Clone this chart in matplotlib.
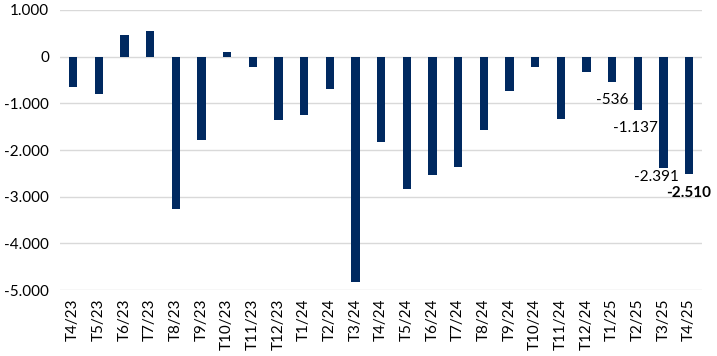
import numpy as np
import matplotlib.pyplot as plt
from matplotlib.ticker import FuncFormatter

# Datos
months = ["T4/23", "T5/23", "T6/23", "T7/23", "T8/23", "T9/23", "T10/23", "T11/23",
          "T12/23", "T1/24", "T2/24", "T3/24", "T4/24", "T5/24", "T6/24", "T7/24",
          "T8/24", "T9/24", "T10/24", "T11/24", "T12/24", "T1/25", "T2/25", "T3/25", "T4/25"]
values = [-640, -810, 470, 540, -3260, -1780, 110, -230,
          -1350, -1260, -700, -4830, -1820, -2830, -2540, -2360,
          -1560, -730, -220, -1330, -335, -536, -1137, -2391, -2510]
labeled = [21, 22, 23, 24]
bold_label = 24

def fmt(v):
    return f"{v:,.0f}".replace(",", ".")

plt.rcParams['font.family'] = ['Lato', 'DejaVu Sans']

fig = plt.figure(figsize=(7.17, 3.56), dpi=100)
ax = fig.add_axes([0.084, 0.185, 0.895, 0.787])

x = np.arange(len(months))
ax.bar(x, values, width=0.32, color="#002960", zorder=3)

ax.set_ylim(-5000, 1000)
ax.set_yticks(np.arange(-5000, 1001, 1000))
ax.yaxis.set_major_formatter(FuncFormatter(lambda v, p: fmt(v)))
ax.set_xlim(-0.5, len(months) - 0.5)
ax.set_xticks(x)
ax.set_xticklabels(months, rotation=90)

ax.grid(axis="y", color="#d9d9d9", linewidth=1, zorder=0)
for s in ax.spines.values():
    s.set_visible(False)
ax.tick_params(axis="both", length=0, labelsize=11, colors="#000000")
ax.tick_params(axis="x", pad=6)
ax.tick_params(axis="y", pad=8)

# desplazamiento de las etiquetas (puntos)
label_offsets = {21: (0, -13), 22: (-2, -13), 23: (-5, -6), 24: (0, -14)}
for i in labeled:
    ax.annotate(fmt(values[i]), (x[i], values[i]), xytext=label_offsets[i],
                textcoords="offset points", ha="center", va="center",
                fontsize=11, fontweight="bold" if i == bold_label else "normal")

fig.savefig("out.png", dpi=100)
